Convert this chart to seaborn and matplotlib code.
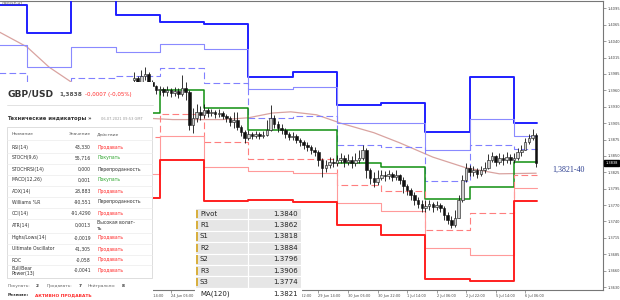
import matplotlib
matplotlib.use("Agg")
import matplotlib.pyplot as plt
import matplotlib.transforms as mtrans
from matplotlib.patches import Rectangle
from matplotlib.lines import Line2D
import seaborn as sns
import pandas as pd

sns.set_theme(style="white")
plt.rcParams['font.family'] = ['DejaVu Sans']

# ---------------- data ----------------
# x = hourly bar number counted from 18 Jun 00:00 (weekends skipped); 2-hour candles
bar_index = list(range(82, 301, 2))
first_open = 1.3978
closes = [1.3981, 1.3974, 1.3984, 1.3988, 1.3974, 1.3968, 1.3961, 1.3963, 1.3958, 1.3961,
          1.3956, 1.3959, 1.3954, 1.3964, 1.3958, 1.3902, 1.3914, 1.3924, 1.3919, 1.3927,
          1.3922, 1.3924, 1.3921, 1.3922, 1.3917, 1.3914, 1.3907, 1.3911, 1.3899, 1.3890,
          1.3880, 1.3887, 1.3884, 1.3887, 1.3884, 1.3885, 1.3894, 1.3914, 1.3904, 1.3897,
          1.3894, 1.3887, 1.3882, 1.3884, 1.3877, 1.3874, 1.3869, 1.3865, 1.3860, 1.3857,
          1.3843, 1.3830, 1.3835, 1.3840, 1.3838, 1.3843, 1.3847, 1.3840, 1.3843, 1.3838,
          1.3843, 1.3847, 1.3860, 1.3827, 1.3813, 1.3806, 1.3813, 1.3818, 1.3817, 1.3820,
          1.3815, 1.3818, 1.3810, 1.3800, 1.3793, 1.3785, 1.3776, 1.3769, 1.3763, 1.3766,
          1.3769, 1.3764, 1.3768, 1.3763, 1.3751, 1.3743, 1.3734, 1.3746, 1.3776, 1.3810,
          1.3830, 1.3823, 1.3827, 1.3820, 1.3827, 1.3830, 1.3843, 1.3850, 1.3840, 1.3847,
          1.3843, 1.3848, 1.3843, 1.3847, 1.3857, 1.3860, 1.3874, 1.3880, 1.3885, 1.3838]
highs = [1.3991, 1.3984, 1.3994, 1.3999, 1.3991, 1.3978, 1.3969, 1.3968, 1.3966, 1.3968,
         1.3964, 1.3966, 1.3964, 1.3986, 1.3974, 1.3961, 1.3931, 1.3937, 1.3934, 1.3937,
         1.3931, 1.3929, 1.3927, 1.3929, 1.3926, 1.3921, 1.3917, 1.3924, 1.3924, 1.3902,
         1.3894, 1.3894, 1.3890, 1.3892, 1.3890, 1.3892, 1.3911, 1.3936, 1.3919, 1.3909,
         1.3904, 1.3897, 1.3890, 1.3890, 1.3887, 1.3880, 1.3877, 1.3874, 1.3869, 1.3865,
         1.3860, 1.3847, 1.3843, 1.3848, 1.3847, 1.3852, 1.3855, 1.3852, 1.3853, 1.3850,
         1.3855, 1.3860, 1.3869, 1.3864, 1.3830, 1.3823, 1.3827, 1.3827, 1.3825, 1.3827,
         1.3823, 1.3827, 1.3820, 1.3815, 1.3803, 1.3796, 1.3790, 1.3781, 1.3776, 1.3776,
         1.3776, 1.3773, 1.3774, 1.3771, 1.3766, 1.3756, 1.3749, 1.3759, 1.3785, 1.3818,
         1.3838, 1.3835, 1.3833, 1.3830, 1.3833, 1.3840, 1.3853, 1.3857, 1.3852, 1.3855,
         1.3853, 1.3857, 1.3853, 1.3855, 1.3864, 1.3869, 1.3880, 1.3887, 1.3895, 1.3889]
lows = [1.3974, 1.3968, 1.3971, 1.3978, 1.3968, 1.3961, 1.3954, 1.3953, 1.3951, 1.3951,
        1.3949, 1.3951, 1.3947, 1.3951, 1.3944, 1.3894, 1.3889, 1.3907, 1.3911, 1.3914,
        1.3916, 1.3917, 1.3914, 1.3916, 1.3912, 1.3907, 1.3900, 1.3897, 1.3894, 1.3884,
        1.3872, 1.3877, 1.3879, 1.3880, 1.3879, 1.3880, 1.3884, 1.3892, 1.3897, 1.3890,
        1.3887, 1.3880, 1.3877, 1.3877, 1.3872, 1.3867, 1.3862, 1.3859, 1.3853, 1.3850,
        1.3833, 1.3815, 1.3823, 1.3830, 1.3832, 1.3833, 1.3838, 1.3832, 1.3835, 1.3830,
        1.3833, 1.3838, 1.3843, 1.3813, 1.3803, 1.3798, 1.3801, 1.3810, 1.3808, 1.3811,
        1.3808, 1.3810, 1.3803, 1.3788, 1.3785, 1.3776, 1.3768, 1.3763, 1.3756, 1.3756,
        1.3759, 1.3756, 1.3759, 1.3756, 1.3743, 1.3736, 1.3729, 1.3731, 1.3746, 1.3773,
        1.3806, 1.3817, 1.3817, 1.3813, 1.3817, 1.3822, 1.3828, 1.3840, 1.3833, 1.3837,
        1.3835, 1.3838, 1.3837, 1.3838, 1.3843, 1.3850, 1.3860, 1.3870, 1.3877, 1.3832]

# daily pivot levels (18 Jun ... 6 Jul), each day starts at hour bar 24*k
day_starts = [0, 24, 48, 72, 96, 120, 144, 168, 192, 216, 240, 264, 288]
line_end = 300.5
pivot_r3 = [1.4104, 1.4057, 1.4137, 1.4087, 1.4075, 1.4072, 1.3983, 1.3991, 1.3936, 1.3939, 1.3890, 1.3983, 1.3906]
pivot_r2 = [1.4036, 1.3999, 1.4033, 1.4025, 1.4038, 1.4030, 1.3963, 1.3966, 1.3905, 1.3905, 1.3860, 1.3912, 1.3884]
pivot_r1 = [1.3989, 1.3959, 1.3981, 1.3984, 1.3998, 1.3973, 1.3914, 1.3917, 1.3869, 1.3865, 1.3808, 1.3869, 1.3862]
pivot_p = [1.3922, 1.3902, 1.3877, 1.3922, 1.3961, 1.3931, 1.3894, 1.3894, 1.3838, 1.3832, 1.3778, 1.3798, 1.3840]
pivot_s1 = [1.3875, 1.3862, 1.3825, 1.3882, 1.3921, 1.3874, 1.3845, 1.3845, 1.3801, 1.3791, 1.3726, 1.3754, 1.3818]
pivot_s2 = [1.3808, 1.3805, 1.3721, 1.3820, 1.3884, 1.3832, 1.3825, 1.3822, 1.3771, 1.3758, 1.3696, 1.3684, 1.3796]
pivot_s3 = [1.3761, 1.3764, 1.3669, 1.3780, 1.3843, 1.3775, 1.3776, 1.3773, 1.3734, 1.3717, 1.3644, 1.3640, 1.3774]

# MA(120)
ma_index = [9, 24, 36, 48, 66, 85, 103, 130, 144, 157, 167, 181, 194, 212, 226, 244, 262, 280, 300]
ma_values = [1.4058, 1.4033, 1.3999, 1.3974, 1.3944, 1.3914, 1.3911, 1.3911, 1.3914, 1.3922,
             1.3924, 1.3919, 1.3905, 1.3889, 1.3872, 1.3848, 1.3830, 1.3820, 1.3821]

# axes ticks
ytick_values = [1.36300, 1.36575, 1.36850, 1.37125, 1.37400, 1.37675, 1.37950, 1.38225, 1.38500,
                1.38775, 1.39050, 1.39325, 1.39600, 1.39875, 1.40150, 1.40425, 1.40700, 1.40975]
ytick_labels = ["1.3630", "1.3660", "1.3685", "1.3715", "1.3740", "1.3770", "1.3795", "1.3825", "1.3850",
                "1.3875", "1.3905", "1.3930", "1.3960", "1.3985", "1.4015", "1.4040", "1.4065", "1.4095"]
# time labels that are not hidden behind the overlays
xtick_index = [86, 102, 166, 182, 198, 214, 230, 246, 262, 278, 294]
xtick_labels = ["23 Jun 14:00", "24 Jun 06:00", "28 Jun 22:00", "29 Jun 14:00", "30 Jun 06:00",
                "30 Jun 22:00", "1 Jul 14:00", "2 Jul 06:00", "2 Jul 22:00", "5 Jul 14:00",
                "6 Jul 06:00"]
last_price = 1.3838

# info panel
pair_name = "GBP/USD"
pair_price = "1,3838"
pair_change = "-0,0007 (-0,05%)"
ind_names = ["RSI(14)", "STOCH(9,6)", "STOCHRSI(14)", "MACD(12,26)", "ADX(14)", "Williams %R",
             "CCI(14)", "ATR(14)", "Highs/Lows(14)", "Ultimate Oscillator", "ROC", "Bull/Bear\nPower(13)"]
ind_values = ["43,330", "55,716", "0,000", "0,001", "28,883", "-90,551",
              "-91,4290", "0,0013", "-0,0019", "41,305", "-0,058", "-0,0041"]
ind_actions = ["Продавать", "Покупать", "Перепроданность", "Покупать", "Продавать", "Перепроданность",
               "Продавать", "Высокая волат-\nть", "Продавать", "Продавать", "Продавать", "Продавать"]
summary_counts = [("Покупать:", "2"), ("Продавать:", "7"), ("Нейтрально:", "8")]

pivot_names = ["Pivot", "R1", "S1", "R2", "S2", "R3", "S3", "MA(120)"]
pivot_table_values = [1.3840, 1.3862, 1.3818, 1.3884, 1.3796, 1.3906, 1.3774, 1.3821]

# ---------------- figure ----------------
W, H = 620, 300
fig = plt.figure(figsize=(6.2, 3.0), dpi=100)
fig.patch.set_facecolor("white")
ax = fig.add_axes([0, 10 / H, 603 / W, 289 / H])
ax.set_facecolor("white")
ax.set_xlim(9.4, 336.2)
ax.set_ylim(1.3625, 1.4110)


def fx(x):
    return x / W


def fy(y):
    return 1 - y / H


def level(vals, color, lw, dashed=False, z=3):
    df = pd.DataFrame({"x": day_starts + [line_end], "y": vals + [vals[-1]]})
    kw = dict(linestyle=(0, (6, 3))) if dashed else {}
    sns.lineplot(data=df, x="x", y="y", ax=ax, color=color, lw=lw, drawstyle="steps-post",
                 estimator=None, sort=False, legend=False, zorder=z, **kw)


# MA
sns.lineplot(x=ma_index, y=ma_values, ax=ax, color="#d9a3a0", lw=0.9, estimator=None,
             sort=False, legend=False, zorder=2)

level(pivot_r3, "#1f1fff", 1.4)
level(pivot_r2, "#8a8aff", 0.8)
level(pivot_r1, "#8080ff", 0.8, dashed=True)
level(pivot_p, "#109010", 1.1)
level(pivot_s1, "#ff7e7e", 0.8, dashed=True)
level(pivot_s2, "#ff9a9a", 0.8)
level(pivot_s3, "#ff1f1f", 1.4)

# candles
opens = [first_open] + closes[:-1]
ax.vlines(bar_index, lows, highs, color="#111111", lw=0.6, zorder=4)
for xi, o, c in zip(bar_index, opens, closes):
    bottom = min(o, c)
    height = max(abs(c - o), 0.00005)
    ax.bar(xi, height, bottom=bottom, width=1.4, color=("#cfcfcf" if c >= o else "#111111"),
           edgecolor="#111111", linewidth=0.4, zorder=5)

# axes styling
ax.spines["left"].set_visible(False)
for s in ["top", "right", "bottom"]:
    ax.spines[s].set_color("#777777")
    ax.spines[s].set_linewidth(0.8)
ax.yaxis.tick_right()
ax.set_yticks(ytick_values)
ax.set_yticklabels(ytick_labels)
ax.tick_params(axis="y", which="both", right=True, length=2.0, width=0.5, color="#777777",
               labelsize=2.6, labelcolor="#444444", pad=1.2)
ax.set_xticks(xtick_index)
ax.set_xticklabels(xtick_labels, ha="left")
ax.tick_params(axis="x", which="both", bottom=True, length=1.8, width=0.5, color="#777777",
               labelsize=2.5, labelcolor="#444444", pad=0.8)
ax.set_xlabel("")
ax.set_ylabel("")
ax.grid(False)

# current price box
tr = mtrans.blended_transform_factory(ax.transAxes, ax.transData)
ax.text(1.004, last_price, f"{last_price:.4f}", transform=tr, fontsize=2.6, color="white",
        va="center", ha="left", clip_on=False, zorder=20,
        bbox=dict(boxstyle="square,pad=0.3", fc="black", ec="black"))

# range annotation
ax.text(308.5, 1.3826, "1,3821-40", fontsize=5.8, color="#2b3d8f", family="Liberation Serif",
        va="center", ha="left", zorder=20)

fig.text(fx(2), fy(4), "GBPUSD,H1", fontsize=2.6, color="#555555", va="center", ha="left")

# ---------- left info panel ----------
Z = 30
fig.add_artist(Rectangle((0, 0), fx(153), fy(82), transform=fig.transFigure, fc="white",
                         ec="none", zorder=Z))
fig.text(fx(7), fy(94), pair_name, fontsize=6.6, fontweight="bold", color="#333333",
         va="center", ha="left", zorder=Z + 1)
fig.text(fx(59), fy(94.5), pair_price, fontsize=4.2, fontweight="bold", color="#555555",
         va="center", ha="left", zorder=Z + 1)
fig.text(fx(85), fy(94.5), pair_change, fontsize=4.0, color="#ff2a2a",
         va="center", ha="left", zorder=Z + 1)
fig.add_artist(Line2D([fx(7), fx(153)], [fy(105), fy(105)], transform=fig.transFigure,
                      color="#dddddd", lw=0.6, zorder=Z + 1))
fig.text(fx(7), fy(118.5), "Технические индикаторы »", fontsize=3.8, fontweight="bold",
         color="#333333", va="center", ha="left", zorder=Z + 1)
fig.text(fx(101), fy(118.5), "06.07.2021 09:53 GMT", fontsize=2.6, color="#999999",
         va="center", ha="left", zorder=Z + 1)

fig.add_artist(Rectangle((fx(7), fy(278)), fx(145), 151 / H, transform=fig.transFigure,
                         fc="white", ec="#d8d8d8", lw=0.6, zorder=Z + 1))
fig.text(fx(12), fy(134), "Название", fontsize=3.2, color="#555555", va="center", zorder=Z + 2)
fig.text(fx(91), fy(134), "Значение", fontsize=3.2, color="#555555", va="center", ha="right",
         zorder=Z + 2)
fig.text(fx(97), fy(134), "Действие", fontsize=3.2, color="#555555", va="center", zorder=Z + 2)
row_y = [147, 158, 169, 180, 191, 202, 213, 225.5, 238, 249, 260, 270.5]
seps = [140.5, 152.5, 163.5, 174.5, 185.5, 196.5, 207.5, 218.5, 232.5, 243.5, 254.5, 265]
for s in seps:
    fig.add_artist(Line2D([fx(7), fx(152)], [fy(s), fy(s)], transform=fig.transFigure,
                          color="#ececec", lw=0.5, zorder=Z + 2))
for yy, nm, val, act in zip(row_y, ind_names, ind_values, ind_actions):
    fig.text(fx(12), fy(yy), nm, fontsize=3.3, color="#333333", va="center", ha="left",
             linespacing=1.0, zorder=Z + 2)
    fig.text(fx(91), fy(yy), val, fontsize=3.3, color="#333333", va="center", ha="right",
             zorder=Z + 2)
    if act == "Продавать":
        col = "#ff2a2a"
    elif act == "Покупать":
        col = "#2ea52e"
    else:
        col = "#333333"
    fig.text(fx(97), fy(yy), act, fontsize=3.3, color=col, va="center", ha="left",
             linespacing=1.0, zorder=Z + 2)

for (lbl, num), xl, xn in zip(summary_counts, [8, 47, 88], [36, 79, 122]):
    fig.text(fx(xl), fy(286), lbl, fontsize=3.1, color="#666666", va="center", zorder=Z + 2)
    fig.text(fx(xn), fy(286), num, fontsize=3.1, fontweight="bold", color="#333333",
             va="center", zorder=Z + 2)
fig.text(fx(8), fy(295), "Резюме:", fontsize=3.2, fontweight="bold", color="#333333", va="center",
         zorder=Z + 2)
fig.text(fx(35), fy(295), "АКТИВНО ПРОДАВАТЬ", fontsize=3.2, fontweight="bold", color="#ff2a2a",
         va="center", zorder=Z + 2)

# ---------- pivot table ----------
row_h = 11.4
top = 208
for i, (nm, v) in enumerate(zip(pivot_names, pivot_table_values)):
    y0 = top + i * row_h
    is_ma = nm.startswith("MA")
    bg = "white" if is_ma else "#e6e6e6"
    for (xa, xb) in [(195, 248), (248, 301)]:
        fig.add_artist(Rectangle((fx(xa), fy(y0 + row_h)), fx(xb - xa), row_h / H,
                                 transform=fig.transFigure, fc=bg, ec="white", lw=0.8, zorder=Z))
    if not is_ma:
        fig.add_artist(Rectangle((fx(195.5), fy(y0 + row_h - 1.5)), fx(2), (row_h - 3) / H,
                                 transform=fig.transFigure, fc="#d8b040", ec="none", zorder=Z + 1))
    fig.text(fx(200), fy(y0 + row_h / 2), nm, fontsize=5.0, color="#222222", va="center",
             ha="left", zorder=Z + 2)
    fig.text(fx(298), fy(y0 + row_h / 2), f"{v:.4f}", fontsize=5.0, color="#222222",
             va="center", ha="right", zorder=Z + 2)

fig.savefig("out.png", dpi=100, facecolor="white")
